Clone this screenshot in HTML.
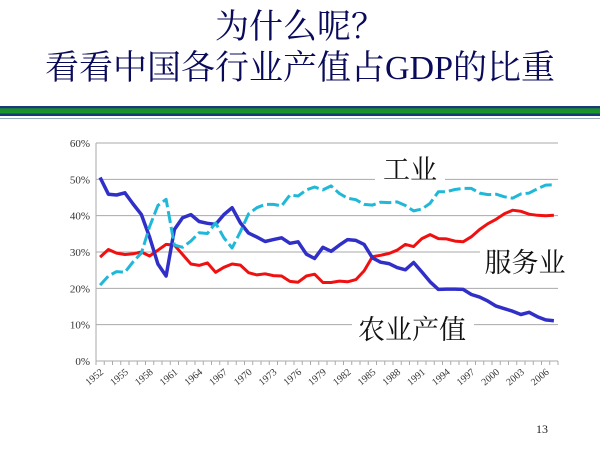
<!DOCTYPE html>
<html><head><meta charset="utf-8"><style>
body{margin:0;width:600px;height:456px;background:#fff;overflow:hidden;font-family:"Liberation Serif","Noto Serif CJK SC",serif;}
.t{position:absolute;left:0;width:600px;text-align:center;color:#0a0a5a;font-size:34px;line-height:40px;}
</style></head><body>
<div class="t" style="top:8px">为什么呢？</div>
<div class="t" style="top:49px">看看中国各行业产值占GDP的比重</div>
<div style="position:absolute;left:0;top:106px;width:600px;height:10px;background:linear-gradient(#1a3a7a 0,#1a3a7a 20%,#1a8a2a 25%,#1a9a2a 70%,#1a3a7a 80%,#1a3a7a 100%)"></div>
<div style="position:absolute;left:0;top:118px;width:600px;height:1px;background:#9ab"></div>
<svg id="s" width="600" height="456" style="position:absolute;left:0;top:0" xmlns="http://www.w3.org/2000/svg"></svg>
<div style="position:absolute;left:536px;top:422px;font-size:12px;color:#222">13</div>
<script>
var A=[50.5,45.9,45.7,46.3,43.2,40.3,34.1,26.7,23.4,36.2,39.4,40.3,38.4,37.9,37.6,40.3,42.2,38.0,35.2,34.1,32.9,33.4,33.9,32.4,32.8,29.4,28.2,31.3,30.2,31.9,33.4,33.2,32.1,28.4,27.2,26.8,25.7,25.1,27.1,24.5,21.8,19.7,19.8,19.8,19.7,18.3,17.6,16.5,15.1,14.4,13.7,12.8,13.4,12.2,11.3,11.1];
var I=[20.9,23.4,24.6,24.4,27.3,29.7,37.0,42.8,44.5,31.9,31.3,33.0,35.3,35.1,38.0,33.9,31.1,35.6,40.5,42.2,43.1,43.1,42.7,45.7,45.4,47.1,47.9,47.1,48.2,46.1,44.8,44.4,43.1,42.9,43.7,43.6,43.8,42.8,41.3,41.8,43.4,46.6,46.6,47.2,47.5,47.5,46.2,45.8,45.9,45.2,44.8,46.0,46.2,47.4,48.4,48.5];
var S=[28.6,30.7,29.7,29.3,29.5,30.0,28.9,30.5,32.1,31.9,29.3,26.7,26.3,27.0,24.4,25.8,26.7,26.4,24.3,23.7,24.0,23.5,23.4,21.9,21.7,23.4,23.9,21.6,21.6,22.0,21.8,22.4,24.8,28.7,29.1,29.6,30.5,32.1,31.5,33.7,34.8,33.7,33.6,33.0,32.8,34.2,36.2,37.8,39.0,40.5,41.5,41.2,40.4,40.1,40.0,40.1];
var x0=96,x1=558,y0=361,yt=143,st=(x1-x0)/56;
function X(i){return x0+st*(i+0.5)}function Y(v){return y0-(y0-yt)*v/60}
var h='';
for(var k=0;k<=6;k++){var y=Y(k*10);h+='<line x1="'+x0+'" x2="'+x1+'" y1="'+y+'" y2="'+y+'" stroke="#aaa" stroke-width="1"/>';h+='<text x="'+(x0-6)+'" y="'+(y+4)+'" font-size="11" text-anchor="end" font-family="Liberation Serif" fill="#333">'+(k*10)+'%</text>';}
h+='<line x1="'+x0+'" x2="'+x0+'" y1="'+yt+'" y2="'+y0+'" stroke="#aaa"/>';
for(var i=0;i<=56;i++){var x=x0+st*i;h+='<line x1="'+x+'" x2="'+x+'" y1="'+y0+'" y2="'+(y0+4)+'" stroke="#aaa"/>';}
for(var i=0;i<56;i+=3){var x=X(i);h+='<text transform="translate('+(x+4)+','+(y0+12)+') rotate(-40)" font-size="10" text-anchor="end" font-family="Liberation Serif" fill="#333">'+(1952+i)+'</text>';}
function P(d){return d.map(function(v,i){return (i?'L':'M')+X(i).toFixed(1)+','+Y(v).toFixed(1)}).join('')}
h+='<path d="'+P(S)+'" fill="none" stroke="#f01010" stroke-width="3" stroke-linejoin="round"/>';
h+='<path d="'+P(A)+'" fill="none" stroke="#3030c8" stroke-width="3.5" stroke-linejoin="round"/>';
h+='<path d="'+P(I)+'" fill="none" stroke="#20b8d8" stroke-width="3" stroke-dasharray="12,4" stroke-linejoin="round"/>';
h+='<rect x="375" y="152" width="70" height="32" fill="#fff"/><text x="410" y="179" font-size="27" text-anchor="middle" font-family="Noto Serif CJK SC,serif" fill="#111">工业</text>';
h+='<rect x="480" y="246" width="90" height="32" fill="#fff"/><text x="525" y="272" font-size="27" text-anchor="middle" font-family="Noto Serif CJK SC,serif" fill="#111">服务业</text>';
h+='<rect x="352" y="312" width="122" height="36" fill="#fff"/><text x="412" y="339" font-size="27" text-anchor="middle" font-family="Noto Serif CJK SC,serif" fill="#111">农业产值</text>';
document.getElementById('s').innerHTML=h;
</script>
</body></html>
